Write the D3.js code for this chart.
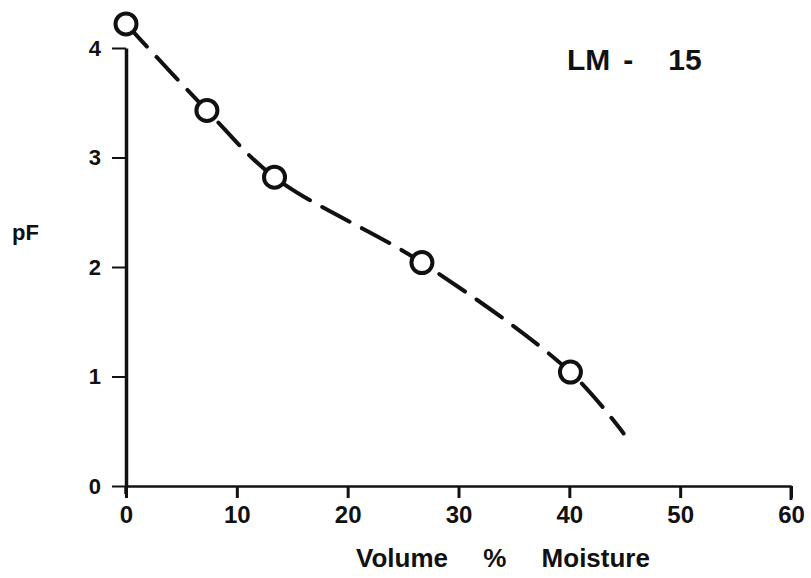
<!DOCTYPE html>
<html>
<head>
<meta charset="utf-8">
<script src="https://cdn.jsdelivr.net/npm/d3@7"></script>
<style>
  body { margin: 0; background: #fff; }
  svg text { font-family: "Liberation Sans", Arial, sans-serif; font-weight: bold; fill: #111; }
</style>
</head>
<body>
<script>
// measured points (volume % moisture, pF)
var moisture = [0, 7.3, 13.4, 26.7, 40.1];
var pF = [4.22, 3.43, 2.82, 2.04, 1.04];
// where the dashed curve runs out past the last point
var curveEnd = [44.9, 0.48];

var xTicks = [0, 10, 20, 30, 40, 50, 60];
var yTicks = [0, 1, 2, 3, 4];

var width = 811, height = 578;

var svg = d3.select("body").append("svg")
    .attr("width", width)
    .attr("height", height);

// set the ranges
var x = d3.scaleLinear().domain([0, 60]).range([126, 791]);
var y = d3.scaleLinear().domain([0, 4]).range([486, 48]);

var points = moisture.map(function(m, i) { return {m: m, pf: pF[i]}; });
var linePts = points.concat([{m: curveEnd[0], pf: curveEnd[1]}]);

var line = d3.line()
    .curve(d3.curveCatmullRom.alpha(0.5))
    .x(function(d) { return x(d.m); })
    .y(function(d) { return y(d.pf); });

// dashed curve
svg.append("path")
    .datum(linePts)
    .attr("d", line)
    .attr("fill", "none")
    .attr("stroke", "#111")
    .attr("stroke-width", 4)
    .attr("stroke-linecap", "round")
    .attr("stroke-dasharray", "31,14");

// x axis
var xAxis = svg.append("g")
    .attr("transform", "translate(0," + y(0) + ")")
    .call(d3.axisBottom(x).tickValues(xTicks).tickFormat(d3.format("d"))
        .tickSize(12).tickSizeOuter(0).tickPadding(8));
xAxis.select(".domain").attr("stroke", "#111").attr("stroke-width", 2.5);
xAxis.selectAll(".tick line").attr("stroke", "#111").attr("stroke-width", 3);
xAxis.selectAll(".tick text").style("font-size", "24px").attr("fill", "#111");
// hooked end at 60
xAxis.append("line")
    .attr("x1", x(60)).attr("x2", x(60))
    .attr("y1", 0).attr("y2", 14)
    .attr("stroke", "#111").attr("stroke-width", 3);

// y axis
var yAxis = svg.append("g")
    .attr("transform", "translate(" + x(0) + ",0)")
    .call(d3.axisLeft(y).tickValues(yTicks).tickFormat(d3.format("d"))
        .tickSize(14).tickSizeOuter(0).tickPadding(11));
yAxis.select(".domain").attr("stroke", "#111").attr("stroke-width", 3.5);
yAxis.selectAll(".tick line").attr("stroke", "#111").attr("stroke-width", 2);
yAxis.selectAll(".tick text").style("font-size", "22px").attr("fill", "#111");
// axis runs a little below zero
yAxis.append("line")
    .attr("x1", 0).attr("x2", 0)
    .attr("y1", y(0)).attr("y2", y(0) + 8)
    .attr("stroke", "#111").attr("stroke-width", 3.5);

// open circles
svg.selectAll(".pt")
    .data(points)
    .enter().append("circle")
    .attr("class", "pt")
    .attr("cx", function(d) { return x(d.m); })
    .attr("cy", function(d) { return y(d.pf); })
    .attr("r", 10.5)
    .attr("fill", "#fff")
    .attr("stroke", "#111")
    .attr("stroke-width", 4);

// y label
svg.append("text")
    .attr("x", 12)
    .attr("y", 240)
    .style("font-size", "22px")
    .text("pF");

// x label
svg.append("text")
    .attr("x", 503)
    .attr("y", 567)
    .attr("text-anchor", "middle")
    .style("font-size", "26px")
    .style("word-spacing", "28px")
    .text("Volume % Moisture");

// sample name
var lm = svg.append("text")
    .attr("x", 567)
    .attr("y", 70)
    .style("font-size", "30px");
lm.append("tspan").text("LM");
lm.append("tspan").attr("dx", 13).text("-");
lm.append("tspan").attr("dx", 35).text("15");
</script>
</body>
</html>
